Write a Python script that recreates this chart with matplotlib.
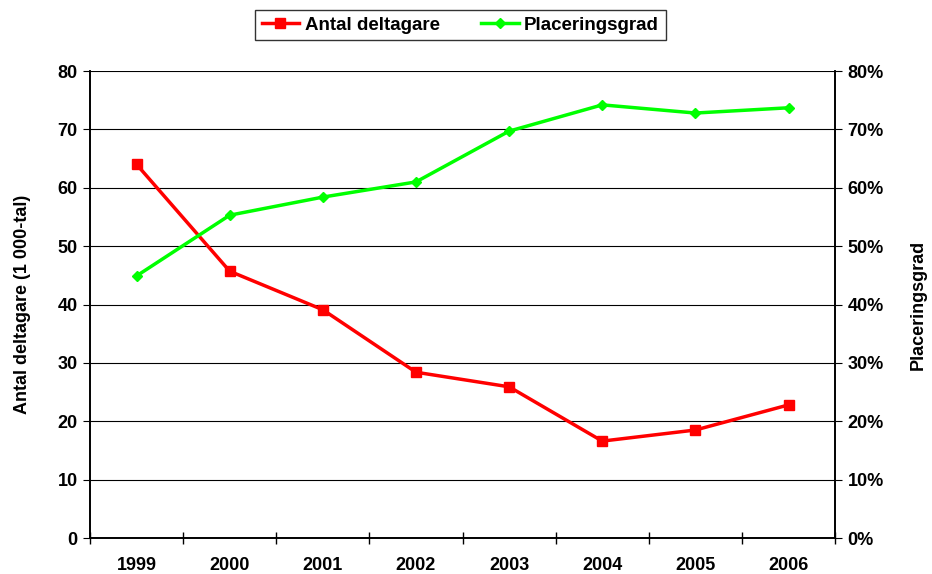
import numpy as np
import matplotlib.pyplot as plt
from matplotlib.ticker import FuncFormatter

plt.rcParams['font.family'] = ['Liberation Sans', 'DejaVu Sans']
plt.rcParams['font.weight'] = 'bold'

years = ["1999", "2000", "2001", "2002", "2003", "2004", "2005", "2006"]
deltagare = [64.0, 45.7, 39.1, 28.4, 25.9, 16.6, 18.5, 22.8]   # 1 000-tal
placering = [44.9, 55.3, 58.4, 61.0, 69.7, 74.2, 72.8, 73.7]   # procent

fig = plt.figure(figsize=(9.32, 5.74), dpi=100)
ax = fig.add_axes([0.0966, 0.0627, 0.7994, 0.8136])
ax2 = ax.twinx()

x = np.arange(len(years))

# ===== grid =====
ax.set_ylim(0, 80)
ax.set_yticks(np.arange(0, 81, 10))
ax.yaxis.grid(True, color="black", linewidth=0.8)
ax.set_axisbelow(True)
ax.set_xlim(-0.5, len(years) - 0.5)
ax.set_xticks(np.arange(-0.5, len(years)))
ax.set_xticklabels([])
ax.set_xticks(x, minor=True)
ax.set_xticklabels(years, minor=True)
ax.tick_params(axis="x", which="major", direction="inout", length=8, width=1)
ax.tick_params(axis="x", which="minor", length=0, pad=14, labelsize=13)
ax.tick_params(axis="y", direction="out", length=5, labelsize=13, pad=4)

ax2.set_ylim(0, 80)
ax2.set_yticks(np.arange(0, 81, 10))
ax2.yaxis.set_major_formatter(FuncFormatter(lambda v, p: f"{v:.0f}%"))
ax2.tick_params(axis="y", direction="out", length=5, labelsize=13, pad=4)

for a in (ax, ax2):
    a.spines["top"].set_visible(False)
    for s in ("left", "right", "bottom"):
        a.spines[s].set_linewidth(1.2)

l1, = ax.plot(x, deltagare, color="#ff0000", lw=2.5, marker="s", ms=7,
              label="Antal deltagare", zorder=3)
l2, = ax2.plot(x, placering, color="#00ff00", lw=2.5, marker="D", ms=5,
               label="Placeringsgrad", zorder=3)

ax.set_ylabel("Antal deltagare (1 000-tal)", fontsize=13, fontweight="bold", labelpad=19)
ax2.set_ylabel("Placeringsgrad", fontsize=13, fontweight="bold", labelpad=19)

leg = fig.legend(handles=[l1, l2], loc="upper center", bbox_to_anchor=(0.494, 0.992),
                 ncol=2, frameon=True, fancybox=False, edgecolor="black",
                 fontsize=13.5, handlelength=2.0, handletextpad=0.3,
                 columnspacing=2.2, borderpad=0.35, borderaxespad=0.3)
leg.get_frame().set_linewidth(1.0)

plt.savefig("out.png")
